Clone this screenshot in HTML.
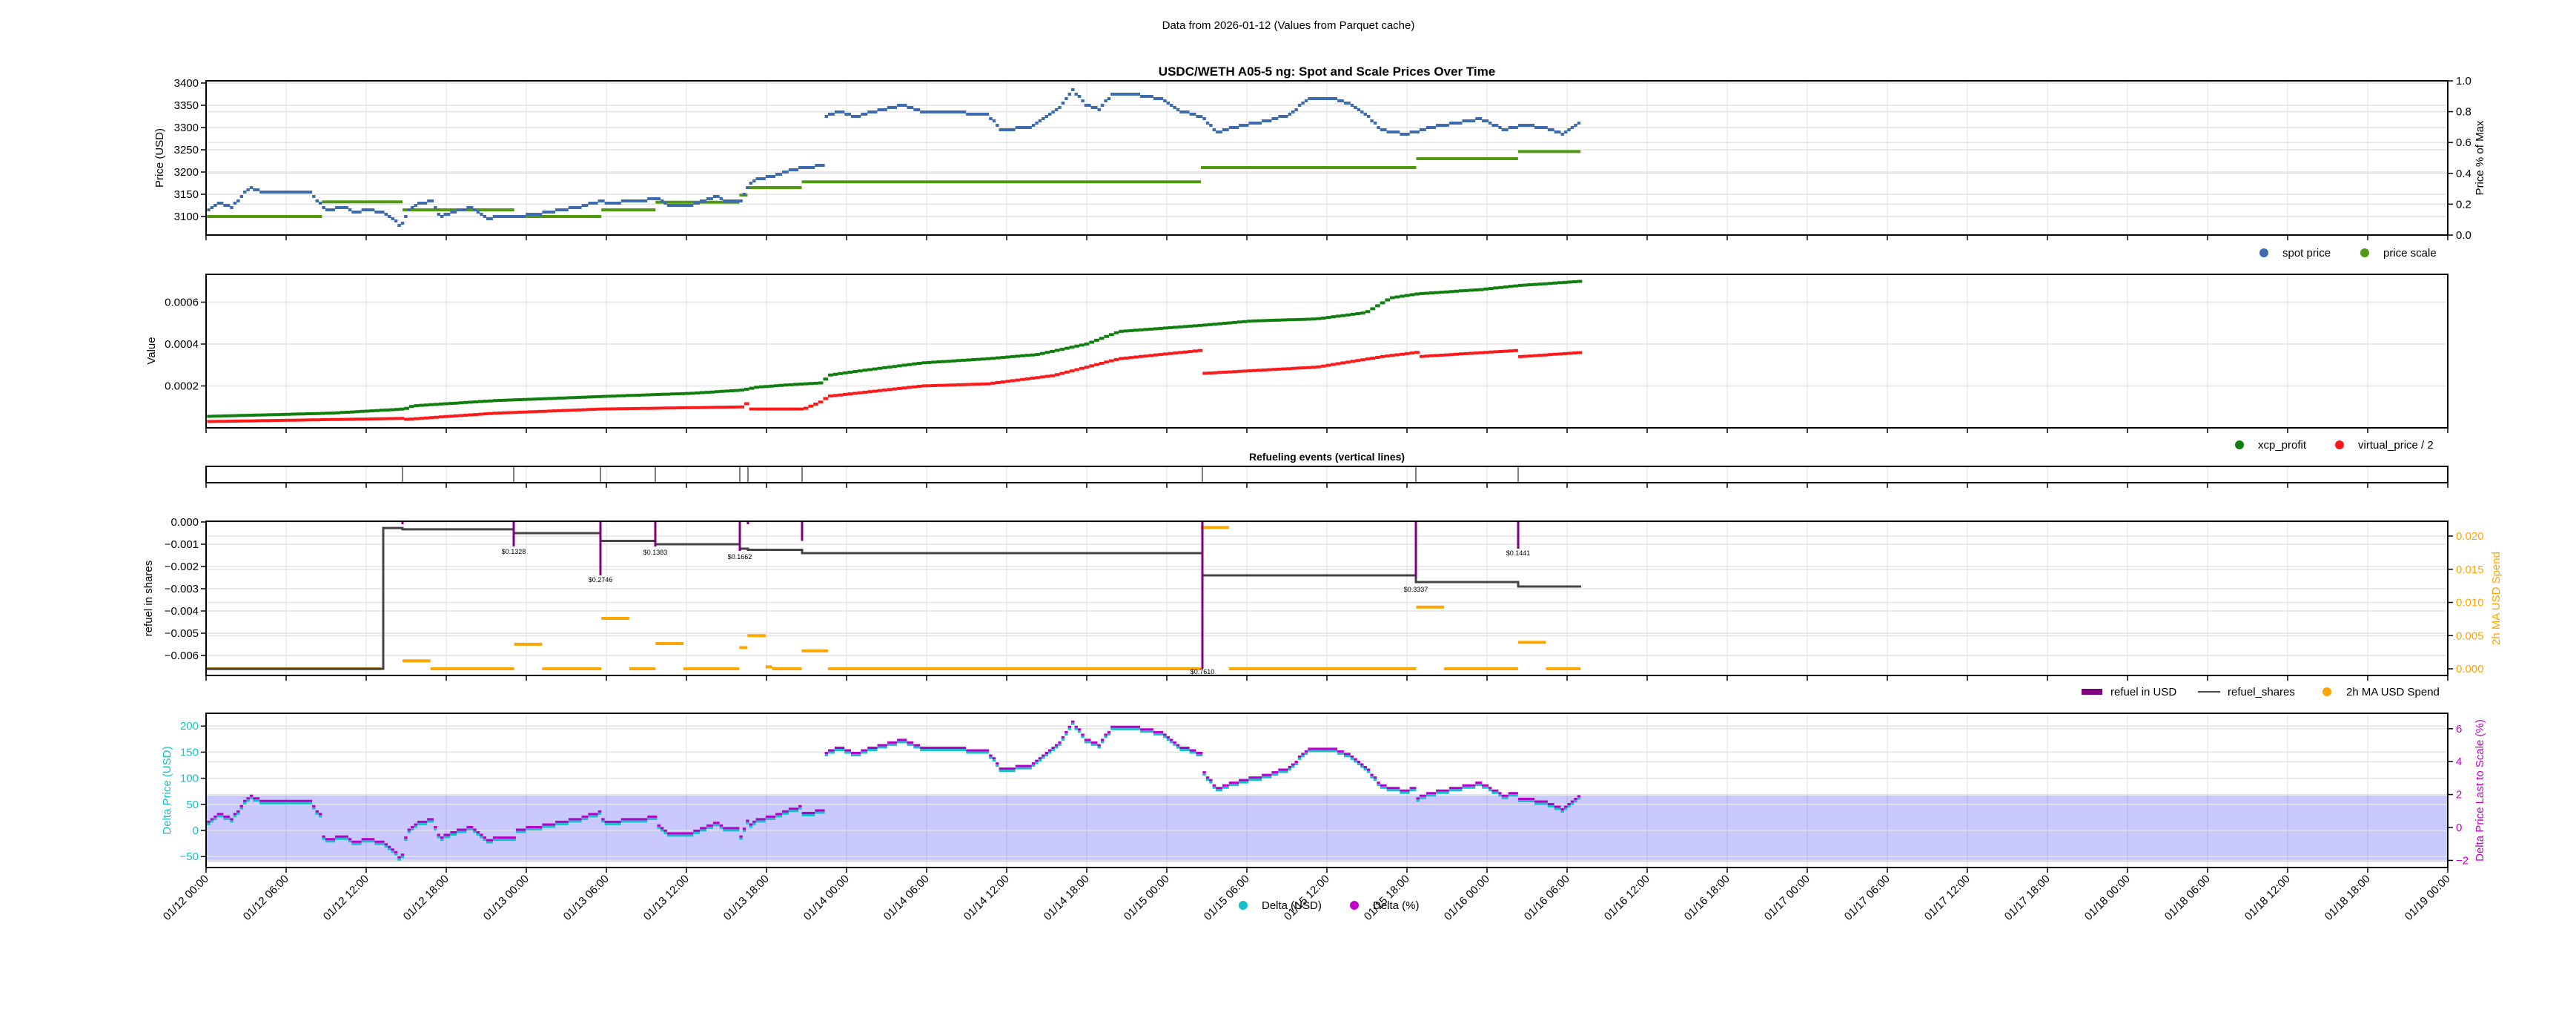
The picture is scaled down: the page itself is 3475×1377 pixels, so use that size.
<!DOCTYPE html>
<html><head><meta charset="utf-8"><style>
html,body{margin:0;padding:0;background:#fff}
svg{display:block;font-family:"Liberation Sans",sans-serif}
</style></head><body>
<svg id="s" width="3475" height="1377" xmlns="http://www.w3.org/2000/svg">
<rect width="3475" height="1377" fill="#fff"/>
<text x="1738" y="39" font-size="15" text-anchor="middle">Data from 2026-01-12 (Values from Parquet cache)</text>
<text x="1790" y="102" font-size="17" font-weight="bold" text-anchor="middle">USDC/WETH A05-5 ng: Spot and Scale Prices Over Time</text>
<text x="1790" y="621" font-size="14" font-weight="bold" text-anchor="middle">Refueling events (vertical lines)</text>
<g id="g"></g>
</svg>
<script>
const NS="http://www.w3.org/2000/svg",G=document.getElementById('g');
function el(t,a,txt){const e=document.createElementNS(NS,t);for(const k in a)e.setAttribute(k,a[k]);if(txt!==undefined)e.textContent=txt;G.appendChild(e);return e;}
const L=278,R=3302;const D=x=>x/0.4512;
// panels
const P=[[109,317],[370,577],[629,651],[703,911],[962,1170]];
// grids
function vgrid(t,b){for(let i=1;i<28;i++){const x=L+i*108;el('line',{x1:x,y1:t,x2:x,y2:b,stroke:'#ddd','stroke-width':1});}}
function hgrid(ys){ys.forEach(y=>el('line',{x1:L,y1:y,x2:R,y2:y,stroke:'#e3e3e3','stroke-width':1.5}));}
P.forEach(p=>vgrid(p[0],p[1]));
// panel1
const y1=v=>292-(v-3100)*0.6;
hgrid([3100,3150,3200,3250,3300,3350,3400].map(y1));
hgrid([0.2,0.4,0.6,0.8].map(v=>317-v*208));
// panel2
const y2=v=>577-v/0.0002*56.5;
hgrid([0.0002,0.0004,0.0006].map(y2));
// panel4
const y4=v=>704+(-v)*30000;
hgrid([0,-0.001,-0.002,-0.003,-0.004,-0.005,-0.006].map(y4));
const y4r=v=>902-v*8950;
hgrid([0.005,0.01,0.015,0.02].map(y4r));
// panel5
const y5=v=>1120-v*0.704;
el('rect',{x:L,y:y5(67),width:R-L,height:y5(-60)-y5(67),fill:'#0000ff','fill-opacity':0.21});
hgrid([-50,0,50,100,150,200].map(y5));
const y5r=v=>1116-v*22.2;
hgrid([-2,2,4,6].map(y5r));

// data
const spot=[[126,3117],[133,3130],[140,3120],[147,3150],[152,3165],[158,3155],[188,3155],[192,3135],[198,3115],[210,3120],[215,3110],[225,3115],[235,3105],[240,3090],[243,3075],[247,3110],[255,3130],[262,3135],[267,3100],[275,3110],[285,3120],[295,3095],[305,3100],[315,3100],[325,3105],[340,3115],[350,3120],[365,3135],[370,3130],[385,3135],[400,3140],[405,3125],[420,3125],[435,3145],[440,3135],[450,3135],[455,3170],[460,3185],[470,3190],[480,3205],[490,3210],[500,3215],[502,3325],[510,3335],[520,3325],[535,3340],[548,3350],[560,3335],[575,3335],[600,3330],[608,3295],[625,3300],[635,3320],[645,3350],[652,3385],[660,3350],[668,3340],[676,3375],[690,3375],[705,3365],[715,3340],[730,3325],[740,3290],[755,3305],[770,3315],[785,3330],[795,3365],[810,3365],[820,3355],[830,3330],[840,3295],[855,3285],[870,3300],[885,3310],[900,3320],[915,3295],[925,3305],[940,3300],[950,3285],[962,3315]];
const scale=[[126,196,3100],[196,245,3133],[245,313,3115],[313,366,3100],[366,399,3115],[399,450,3132],[450,455,3148],[455,488,3165],[488,731,3178],[731,862,3210],[862,924,3230],[924,962,3246]];
function interp(a,x){for(let i=0;i<a.length-1;i++){if(x>=a[i][0]&&x<=a[i+1][0]){const t=(x-a[i][0])/(a[i+1][0]-a[i][0]);return a[i][1]+t*(a[i+1][1]-a[i][1]);}}return a[a.length-1][1];}
function scaleAt(x){for(const s of scale)if(x>=s[0]&&x<s[1])return s[2];return 3246;}
// spot as step dashes
function stepPath(a,yf,dx){let d='';for(let x=a[0][0];x<a[a.length-1][0];x+=dx){const v=Math.round(interp(a,x)/5)*5;d+=`M${D(x).toFixed(1)} ${yf(v).toFixed(1)}H${D(x+dx).toFixed(1)}`;}return d;}
scale.forEach(s=>el('line',{x1:D(s[0]),x2:D(s[1]),y1:y1(s[2]),y2:y1(s[2]),stroke:'#4f9a10','stroke-width':4}));
el('path',{d:stepPath(spot,y1,2),stroke:'#3d6bb0','stroke-width':4,fill:'none'});
// panel2
const green=[[126,0.000055],[200,0.00007],[245,0.00009],[250,0.000105],[300,0.00013],[366,0.00015],[420,0.000165],[450,0.00018],[460,0.000195],[488,0.00021],[500,0.000215],[502,0.00025],[520,0.00027],[560,0.00031],[600,0.00033],[630,0.00035],[660,0.0004],[680,0.00046],[731,0.00049],[760,0.00051],[800,0.00052],[830,0.00055],[845,0.00062],[862,0.00064],[900,0.00066],[924,0.00068],[962,0.0007]];
const red=[[126,0.00003],[244,0.000045],[245,0.00004],[300,0.00007],[366,0.00009],[450,0.0001],[454,0.00012],[455,0.00009],[487,0.00009],[488,0.00009],[500,0.00013],[502,0.00015],[560,0.0002],[600,0.00021],[640,0.00025],[680,0.00033],[730,0.00037],[731,0.00026],[800,0.00029],[840,0.00034],[861,0.00036],[862,0.00034],[923,0.00037],[924,0.00034],[962,0.00036]];
function smallStep(a,yf,dx,c){let d='';for(let x=a[0][0];x<a[a.length-1][0];x+=dx){const v=interp(a,x);d+=`M${D(x).toFixed(1)} ${yf(v).toFixed(1)}H${D(x+dx).toFixed(1)}`;}el('path',{d:d,stroke:c,'stroke-width':4,fill:'none'});}
smallStep(green,y2,3,'#0f7f0f');smallStep(red,y2,3,'#ff1a1a');
// panel3 events
const ev=[543,693,810,884,998,1009,1082,1622,1910,2048];
ev.forEach(x=>el('line',{x1:x,x2:x,y1:629,y2:651,stroke:'#555','stroke-width':1.5}));
// panel4 orange
const org=[[126,232,0],[245,262,0.0012],[262,313,0],[313,330,0.0037],[330,366,0],[366,383,0.0076],[383,399,0],[399,416,0.0038],[416,450,0],[450,455,0.0032],[455,466,0.005],[466,470,0.0003],[470,488,0],[488,504,0.0027],[504,731,0],[731,748,0.0213],[748,862,0],[862,879,0.0093],[879,924,0],[924,941,0.004],[941,962,0]];
org.forEach(s=>el('line',{x1:D(s[0]),x2:D(s[1]),y1:y4r(s[2]),y2:y4r(s[2]),stroke:'#ffa500','stroke-width':4}));
// black step
const bs=[[278,517,-0.0066],[517,543,-0.00027],[543,693,-0.00033],[693,810,-0.0005],[810,884,-0.00085],[884,998,-0.001],[998,1009,-0.0012],[1009,1082,-0.00125],[1082,1622,-0.0014],[1622,1910,-0.0024],[1910,2048,-0.0027],[2048,2133,-0.0029]];
let d='M'+bs[0][0]+' '+y4(bs[0][2]);bs.forEach(s=>{d+=`V${y4(s[2])}H${s[1]}`;});
el('path',{d:d,stroke:'#444','stroke-width':3,fill:'none'});
const pv=[[543,-0.0001],[693,-0.0011],[810,-0.0024],[884,-0.0011],[998,-0.0013],[1009,-0.0001],[1082,-0.00085],[1622,-0.0066],[1910,-0.0025],[2048,-0.0012]];
pv.forEach(p=>el('line',{x1:p[0],x2:p[0],y1:704,y2:y4(p[1]),stroke:'#800080','stroke-width':3}));
[[693,'$0.1328',747],[810,'$0.2746',785],[884,'$0.1383',748],[998,'$0.1662',754],[1622,'$0.7610',909],[1910,'$0.3337',798],[2048,'$0.1441',749]].forEach(t=>el('text',{x:t[0],y:t[2],'font-size':9,'text-anchor':'middle'},t[1]));
// panel5
let dc='',dm='';for(let x=126;x<962;x+=2){const v=Math.round(interp(spot,x)/5)*5-scaleAt(x);const yy=y5(v);dc+=`M${D(x).toFixed(1)} ${(yy+2).toFixed(1)}H${D(x+2).toFixed(1)}`;dm+=`M${D(x).toFixed(1)} ${(yy-1).toFixed(1)}H${D(x+2).toFixed(1)}`;}
el('path',{d:dc,stroke:'#17bfc8','stroke-width':3,fill:'none'});
el('path',{d:dm,stroke:'#b400c8','stroke-width':3,fill:'none'});
// frames, ticks
P.forEach(p=>{el('rect',{x:L,y:p[0],width:R-L,height:p[1]-p[0],fill:'none',stroke:'#000','stroke-width':2});for(let i=0;i<=28;i++){const x=L+i*108;el('line',{x1:x,x2:x,y1:p[1],y2:p[1]+7,stroke:'#000','stroke-width':1.5});}});
function lt(vals,yf,fmt,color){vals.forEach(v=>{const y=yf(v);el('line',{x1:L-7,x2:L,y1:y,y2:y,stroke:'#000','stroke-width':1.5});el('text',{x:L-10,y:y+5,'font-size':15,'text-anchor':'end',fill:color||'#000'},fmt(v));});}
function rt(vals,yf,fmt,color){vals.forEach(v=>{const y=yf(v);el('line',{x1:R,x2:R+7,y1:y,y2:y,stroke:'#000','stroke-width':1.5});el('text',{x:R+11,y:y+5,'font-size':15,fill:color||'#000'},fmt(v));});}
lt([3100,3150,3200,3250,3300,3350,3400],y1,v=>v);
rt([0,0.2,0.4,0.6,0.8,1.0],v=>317-v*208,v=>v.toFixed(1));
lt([0.0002,0.0004,0.0006],y2,v=>v.toFixed(4));
lt([0,-0.001,-0.002,-0.003,-0.004,-0.005,-0.006],y4,v=>(v<0?'\u2212':'')+Math.abs(v).toFixed(3));
rt([0,0.005,0.01,0.015,0.02],y4r,v=>v.toFixed(3),'#ffa500');
lt([-50,0,50,100,150,200],y5,v=>(v<0?'\u2212':'')+Math.abs(v),'#17bfc8');
rt([-2,0,2,4,6],y5r,v=>(v<0?'\u2212':'')+Math.abs(v),'#c000c8');
// x labels
for(let i=0;i<=28;i++){const x=L+i*108;const h=i*6;const day=12+Math.floor(h/24);const hh=String(h%24).padStart(2,'0');
el('text',{x:x+4,y:1186,'font-size':15,'text-anchor':'end',transform:`rotate(-45 ${x+4} 1186)`},`01/${day} ${hh}:00`);}
// axis labels
function vl(x,y,t,c){el('text',{x:x,y:y,'font-size':15,'text-anchor':'middle',fill:c||'#000',transform:`rotate(-90 ${x} ${y})`},t);}
vl(220,213,'Price (USD)');vl(209,473,'Value');vl(205,807,'refuel in shares');vl(230,1066,'Delta Price (USD)','#17bfc8');
function vr(x,y,t,c){el('text',{x:x,y:y,'font-size':15,'text-anchor':'middle',fill:c||'#000',transform:`rotate(-90 ${x} ${y})`},t);}
vr(3350,213,'Price % of Max');vr(3372,807,'2h MA USD Spend','#ffa500');vr(3350,1066,'Delta Price Last to Scale (%)','#c000c8');
// legends
function dot(x,y,c){el('circle',{cx:x,cy:y,r:6,fill:c});}
function lg(x,y,t){el('text',{x:x,y:y+5,'font-size':15},t);}
dot(3054,341,'#3d6bb0');lg(3079,341,'spot price');dot(3190,341,'#4f9a10');lg(3215,341,'price scale');
dot(3021,600,'#0f7f0f');lg(3046,600,'xcp_profit');dot(3156,600,'#ff1a1a');lg(3181,600,'virtual_price / 2');
el('rect',{x:2808,y:929,width:28,height:8,fill:'#800080'});lg(2847,933,'refuel in USD');
el('line',{x1:2965,x2:2995,y1:933,y2:933,stroke:'#444','stroke-width':2});lg(3005,933,'refuel_shares');
dot(3139,933,'#ffa500');lg(3165,933,'2h MA USD Spend');
dot(1677,1221,'#17bfc8');lg(1702,1221,'Delta (USD)');dot(1827,1221,'#c000c8');lg(1852,1221,'Delta (%)');
</script>
</body></html>
